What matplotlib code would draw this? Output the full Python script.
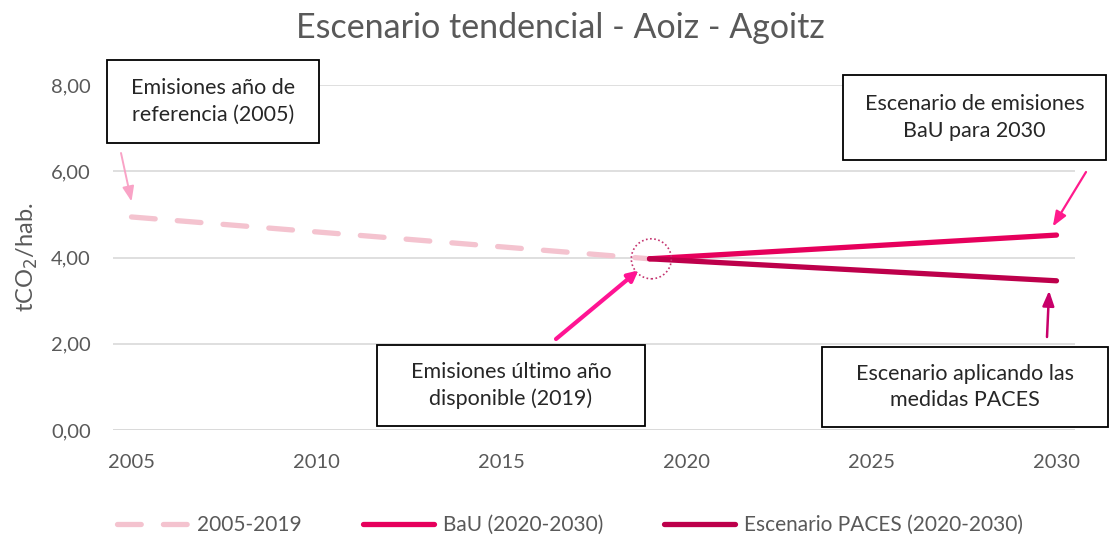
import matplotlib.pyplot as plt
from matplotlib.patches import Ellipse

plt.rcParams['font.family'] = ['Lato', 'DejaVu Sans']

# series
hist_years = [2005, 2019]
hist_vals = [4.94, 3.97]
bau_years = [2019, 2030]
bau_vals = [3.97, 4.52]
paces_years = [2019, 2030]
paces_vals = [3.97, 3.46]

yticks = [0, 2, 4, 6, 8]
ytick_labels = ['0,00', '2,00', '4,00', '6,00', '8,00']
xticks = [2005, 2010, 2015, 2020, 2025, 2030]

c_hist = '#f4c3cf'
c_bau = '#e6005c'
c_paces = '#bd004b'
txt = '#595959'

W, H = 1110, 538
fig = plt.figure(figsize=(W / 100, H / 100), dpi=100)
ax = fig.add_axes([113 / W, (H - 430) / H, (1075 - 113) / W, 345 / H])

ax.plot(hist_years, hist_vals, color=c_hist, lw=3.8, dashes=(4.5, 4.2),
        solid_capstyle='round', dash_capstyle='round', label='2005-2019', zorder=3)
ax.plot(bau_years, bau_vals, color=c_bau, lw=3.8, solid_capstyle='round',
        label='BaU (2020-2030)', zorder=4)
ax.plot(paces_years, paces_vals, color=c_paces, lw=3.8, solid_capstyle='round',
        label='Escenario PACES (2020-2030)', zorder=4)

ax.set_xlim(2004.5, 2030.5)
ax.set_ylim(0, 8)
ax.set_yticks(yticks)
ax.set_yticklabels(ytick_labels)
ax.set_xticks(xticks)
ax.tick_params(length=0, labelsize=14.5, colors=txt)
ax.tick_params(axis='x', pad=17)
ax.tick_params(axis='y', pad=16)
ax.grid(axis='y', color='#d9d9d9', lw=1.2)
ax.set_axisbelow(True)
for s in ax.spines.values():
    s.set_visible(False)
ax.axhline(0, color='#d9d9d9', lw=1.2, zorder=1)

ax.set_ylabel('tCO$_2$/hab.', fontsize=17, color=txt, labelpad=8)
fig.text(560 / W, 1 - 28 / H, 'Escenario tendencial - Aoiz - Agoitz',
         ha='center', va='center', fontsize=24.5, color=txt)

# marker around the last available year
circ = Ellipse((2019.05, 3.97), width=40 / 37, height=40 / 43.1, fill=False,
               ls=(0, (1, 1.5)), lw=1.2, ec='#c4336f', zorder=5)
ax.add_patch(circ)


def box(x0, y0, x1, y1, text):
    fig.patches.append(plt.Rectangle((x0 / W, 1 - y1 / H), (x1 - x0) / W, (y1 - y0) / H,
                                     transform=fig.transFigure, fill=True, fc='white',
                                     ec='black', lw=1.3, zorder=6))
    fig.text((x0 + x1) / 2 / W, 1 - (y0 + y1) / 2 / H, text, ha='center', va='center',
             fontsize=15.5, color='#262626', linespacing=1.4, zorder=7)


box(107, 60, 319, 143, 'Emisiones año de\nreferencia (2005)')
box(843, 75, 1106, 160, 'Escenario de emisiones\nBaU para 2030')
box(377, 345, 645, 426, 'Emisiones último año\ndisponible (2019)')
box(822, 347, 1108, 427, 'Escenario aplicando las\nmedidas PACES')


def arrow(x0, y0, tip, color, lw, head):
    ax.annotate('', xy=tip, xycoords='data',
                xytext=(x0 / W, 1 - y0 / H), textcoords='figure fraction',
                arrowprops=dict(arrowstyle='-|>,head_length=%g,head_width=%g' % head,
                                color=color, lw=lw, shrinkA=0, shrinkB=0),
                zorder=6)


arrow(121, 153, (2005.0, 5.3), '#f9a3c6', 1.4, (0.9, 0.35))
arrow(1086, 172, (2029.9, 4.72), '#ff1a8c', 1.6, (0.9, 0.35))
arrow(556, 339, (2018.7, 3.7), '#ff1493', 3.0, (0.6, 0.3))
arrow(1047, 337, (2029.8, 3.23), '#c8006a', 1.8, (0.9, 0.35))

fig.legend(loc='center', bbox_to_anchor=(570 / W, 1 - 525 / H), ncol=3, frameon=False,
           fontsize=15, labelcolor=txt, handlelength=3.45, columnspacing=2.9,
           handletextpad=0.4)

fig.savefig('out.png', dpi=100)
